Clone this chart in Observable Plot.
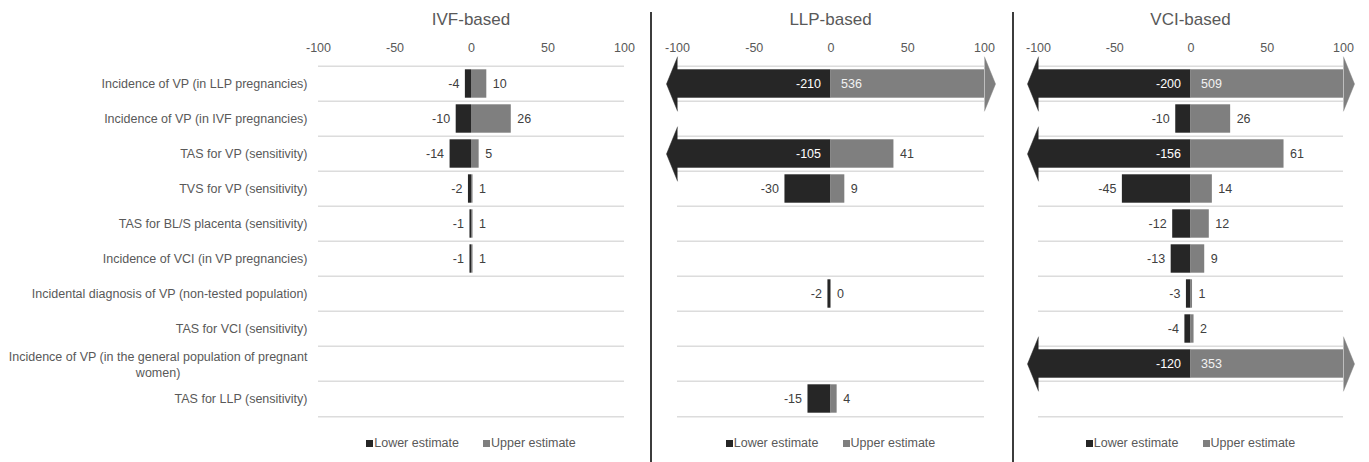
<!DOCTYPE html>
<html>
<head>
<meta charset="utf-8">
<script src="https://cdn.jsdelivr.net/npm/d3@7"></script>
<script src="https://cdn.jsdelivr.net/npm/@observablehq/plot@0.6"></script>
<style>
  body { margin: 0; background: #fff; font-family: "Liberation Sans", Arial, sans-serif; }
  #chart { position: relative; width: 1369px; height: 462px; overflow: hidden; background: #fff; }
  .panel { position: absolute; top: 0; height: 462px; }
  .title { position: absolute; top: 8px; font-size: 17px; line-height: 24px; color: #595959; text-align: center; white-space: nowrap; }
  .plotbox { position: absolute; top: 32px; left: 0; }
  .plotbox svg { overflow: visible; }
  .legendbox { position: absolute; top: 433px; height: 20px; }
  .divider { position: absolute; top: 12px; bottom: 0; width: 2px; background: #3c3c3c; }
  .tl-swatches { font-family: "Liberation Sans", Arial, sans-serif; font-size: 12.5px; color: #595959; margin: 0; min-height: 20px !important; justify-content: center; }
  .tl-swatch { margin: 0 12px !important; }
  .tl-swatch > svg { margin-right: 1px !important; }
</style>
</head>
<body>
<div id="chart"></div>
<script>
// Drivers of the tornado diagrams, listed top to bottom
const categories = [
  "Incidence of VP (in LLP pregnancies)",
  "Incidence of VP (in IVF pregnancies)",
  "TAS for VP (sensitivity)",
  "TVS for VP (sensitivity)",
  "TAS for BL/S placenta (sensitivity)",
  "Incidence of VCI (in VP pregnancies)",
  "Incidental diagnosis of VP (non-tested population)",
  "TAS for VCI (sensitivity)",
  "Incidence of VP (in the general population of pregnant women)",
  "TAS for LLP (sensitivity)"
];

const panelNames = ["IVF-based", "LLP-based", "VCI-based"];
const seriesNames = ["Lower estimate", "Upper estimate"];
const seriesColors = ["#262626", "#7f7f7f"];
const xTicks = [-100, -50, 0, 50, 100];

// Lower / upper estimates per driver (null = driver not in that model)
const ivfLower = [-4, -10, -14, -2, -1, -1, null, null, null, null];
const ivfUpper = [10, 26, 5, 1, 1, 1, null, null, null, null];
const llpLower = [-210, null, -105, -30, null, null, -2, null, null, -15];
const llpUpper = [536, null, 41, 9, null, null, 0, null, null, 4];
const vciLower = [-200, -10, -156, -45, -12, -13, -3, -4, -120, null];
const vciUpper = [509, 26, 61, 14, 12, 9, 1, 2, 353, null];

const panelSeries = [[ivfLower, ivfUpper], [llpLower, llpUpper], [vciLower, vciUpper]];

// Page layout of the three panels
const layout = [
  {left: 0, width: 651, marginLeft: 318, marginRight: 27, labels: true},
  {left: 651, width: 362, marginLeft: 26, marginRight: 29, labels: false},
  {left: 1013, width: 356, marginLeft: 25, marginRight: 26, labels: false}
];

const FONT = "12.5px \"Liberation Sans\", Arial, sans-serif";
const H = 395, MT = 30, MB = 8;
const step = (H - MT - MB) / categories.length;
const xMin = xTicks[0], xMax = xTicks[xTicks.length - 1];
const labelPad = 11;

// Greedy word wrapping of long driver names, measured with the label font
const ctx = document.createElement("canvas").getContext("2d");
ctx.font = FONT;
function wrap(label, maxWidth) {
  const words = label.split(" ");
  const lines = [];
  let line = "";
  for (const w of words) {
    const t = line ? line + " " + w : w;
    if (line && ctx.measureText(t).width > maxWidth) { lines.push(line); line = w; }
    else line = t;
  }
  lines.push(line);
  return lines;
}
const labelLines = categories.map(c => wrap(c, 305));
const labelRows = categories.map((c, i) => ({
  c,
  text: labelLines[i].join("\n"),
  multi: labelLines[i].length > 1,
  width: Math.max(...labelLines[i].map(l => ctx.measureText(l).width))
}));

const chart = document.getElementById("chart");

panelNames.forEach((name, p) => {
  const L = layout[p];
  const [lower, upper] = panelSeries[p];
  const rows = categories.map((c, i) => ({c, lo: lower[i], hi: upper[i]})).filter(d => d.lo != null);
  const loClamp = d => Math.max(d.lo, xMin);
  const hiClamp = d => Math.min(d.hi, xMax);

  const marks = [
    // row separators
    Plot.ruleY(categories, {y: d => d, x1: xMin, x2: xMax, dy: -step / 2, stroke: "#dcdcdc", strokeWidth: 1.5}),
    Plot.ruleY(categories.slice(-1), {y: d => d, x1: xMin, x2: xMax, dy: step / 2, stroke: "#dcdcdc", strokeWidth: 1.5}),
    // bars, cut at the axis limits
    Plot.barX(rows, {y: "c", x1: 0, x2: loClamp, fill: seriesColors[0], insetTop: 3.3, insetBottom: 3.3}),
    Plot.barX(rows, {y: "c", x1: 0, x2: hiClamp, fill: seriesColors[1], insetTop: 3.3, insetBottom: 3.3}),
    // arrow heads for values beyond the axis limits
    Plot.vector(rows.filter(d => d.lo < xMin), {
      x: loClamp, y: "c", rotate: -90, shape: "spike", anchor: "start", length: 11, r: 27,
      fill: seriesColors[0], stroke: seriesColors[0], strokeWidth: 0.5
    }),
    Plot.vector(rows.filter(d => d.hi > xMax), {
      x: hiClamp, y: "c", rotate: 90, shape: "spike", anchor: "start", length: 11, r: 27,
      fill: seriesColors[1], stroke: seriesColors[1], strokeWidth: 0.5
    }),
    // value labels
    Plot.text(rows.filter(d => d.lo >= xMin), {x: "lo", y: "c", text: d => String(d.lo), textAnchor: "end", dx: -6, fill: "#404040"}),
    Plot.text(rows.filter(d => d.lo < xMin), {x: 0, y: "c", text: d => String(d.lo), textAnchor: "end", dx: -10, fill: "#ffffff"}),
    Plot.text(rows.filter(d => d.hi <= xMax), {x: "hi", y: "c", text: d => String(d.hi), textAnchor: "start", dx: 6, fill: "#404040"}),
    Plot.text(rows.filter(d => d.hi > xMax), {x: 0, y: "c", text: d => String(d.hi), textAnchor: "start", dx: 10, fill: "#f2f2f2"})
  ];

  if (L.labels) {
    marks.push(
      Plot.text(labelRows.filter(d => !d.multi), {y: "c", text: "text", frameAnchor: "left", textAnchor: "end", dx: -labelPad, fill: "#595959"})
    );
    for (const d of labelRows.filter(d => d.multi)) {
      marks.push(Plot.text([d], {y: "c", text: "text", frameAnchor: "left", textAnchor: "middle", lineHeight: 1.3, dx: -labelPad - d.width / 2, fill: "#595959"}));
    }
  }

  const svg = Plot.plot({
    width: L.width,
    height: H,
    marginTop: MT,
    marginBottom: MB,
    marginLeft: L.marginLeft,
    marginRight: L.marginRight,
    style: {fontFamily: "\"Liberation Sans\", Arial, sans-serif", fontSize: "12.5px", color: "#595959", background: "transparent", overflow: "visible"},
    x: {domain: [xMin, xMax], axis: "top", ticks: xTicks, tickSize: 0, tickPadding: 11, tickFormat: d => String(d), label: null},
    y: {domain: categories, padding: 0, axis: null},
    marks
  });

  const panel = document.createElement("div");
  panel.className = "panel";
  panel.style.left = L.left + "px";
  panel.style.width = L.width + "px";

  const areaW = L.width - L.marginLeft - L.marginRight;
  const title = document.createElement("div");
  title.className = "title";
  title.style.left = L.marginLeft + "px";
  title.style.width = areaW + "px";
  title.textContent = name;

  const box = document.createElement("div");
  box.className = "plotbox";
  box.appendChild(svg);

  const legendBox = document.createElement("div");
  legendBox.className = "legendbox";
  legendBox.style.left = L.marginLeft + "px";
  legendBox.style.width = areaW + "px";
  legendBox.appendChild(Plot.legend({
    color: {type: "ordinal", domain: seriesNames, range: seriesColors},
    legend: "swatches",
    swatchSize: 7,
    className: "tl"
  }));

  panel.append(title, box, legendBox);
  chart.appendChild(panel);

  if (p > 0) {
    const div = document.createElement("div");
    div.className = "divider";
    div.style.left = (L.left - 1) + "px";
    chart.appendChild(div);
  }
});
</script>
</body>
</html>
